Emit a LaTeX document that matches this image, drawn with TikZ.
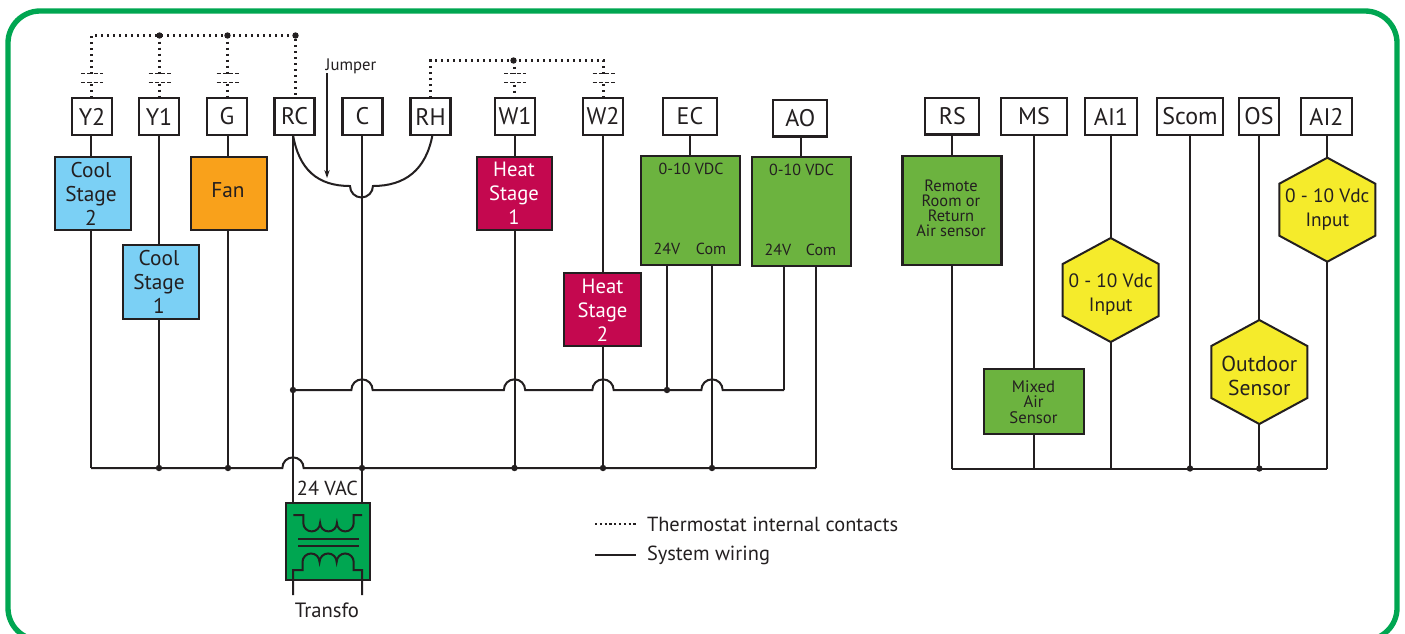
\documentclass[tikz,border=0pt]{standalone}
\usepackage{fontspec}
\setmainfont{PT Sans}
\usetikzlibrary{calc,arrows.meta}
\definecolor{ink}{HTML}{231F20}
\definecolor{framegreen}{HTML}{00A651}
\definecolor{sky}{HTML}{7BD0F5}
\definecolor{fanorange}{HTML}{F9A11B}
\definecolor{heatred}{HTML}{C4084F}
\definecolor{boxgreen}{HTML}{6CB33F}
\definecolor{hexyellow}{HTML}{F5EB2B}
\tikzset{
  every node/.style={text=ink,inner sep=0pt,outer sep=0pt,align=center},
  wire/.style={draw=ink,line width=1.5pt,line join=miter},
  thinwire/.style={draw=ink,line width=1.2pt},
  dots/.style={draw=ink,line width=1.6pt,dash pattern=on 1.8pt off 2.7pt},
  bars/.style={draw=ink,line width=1.2pt,dash pattern=on 3.2pt off 1.5pt},
  termbox/.style={draw=ink,line width=1.7pt,fill=white,font=\fontsize{18}{20}\selectfont,minimum height=27.5pt},
  block/.style={draw=ink,line width=1.7pt,font=\fontsize{16}{18}\selectfont},
  hexst/.style={draw=ink,line width=1.5pt,fill=hexyellow},
  tiny/.style={font=\fontsize{12.3}{11.2}\selectfont},
  small/.style={font=\fontsize{12}{12}\selectfont},
  legend/.style={font=\fontsize{15.3}{17}\selectfont},
  dotnode/.style={circle,fill=ink,minimum size=4.8pt},
  wsize/.style 2 args={minimum width=#1*0.75pt,minimum height=#2*0.75pt}
}
\newcommand{\hexagon}[6]{%
  \draw[hexst,shift={(#1,#2)}] (0,-52) coordinate (#3top) -- (48,-26) -- (48,26) -- (0,52) coordinate (#3bot) -- (-48,26) -- (-48,-26) -- cycle;
  \node[font=\fontsize{#6}{18}\selectfont] (#3txt) at (#1,#5) {#4};}
\newcommand{\jd}[2]{\node[dotnode] (#1) at (#2) {};}
\begin{document}
\begin{tikzpicture}[x=0.75pt,y=-0.75pt]
\useasboundingbox (0,0) rectangle (1405,633);
\clip (0,0) rectangle (1405,633);
\fill[white] (0,0) rectangle (1405,633);
\draw[framegreen,line width=4pt,rounded corners=24pt] (8,11) rectangle (1397,640);

% wire and bus coordinates
\foreach \n/\x in {wY2/91,wY1/159,wG/228,wRC/293,wC/362,wRH/432.5,wW1/514.5,wW2/603,wEC/690,wEV/667,wEM/712,wAO/801,wAV/784,wAM/816,wRS/952,wMS/1034,wAI/1110.7,wSc/1190,wOS/1259.3,wA2/1327.3}
  \coordinate (\n) at (\x,0);
\coordinate (busL) at (0,468);
\coordinate (busV) at (0,390);
\coordinate (busR) at (0,468.5);

% terminals
\node[termbox,minimum width=30pt] (Y2) at (92,116.5) {Y2};
\node[termbox,minimum width=30pt] (Y1) at (159,116.5) {Y1};
\node[termbox,minimum width=30pt] (G) at (227,116.5) {G};
\node[termbox,minimum width=30pt] (RC) at (294.5,116.5) {RC};
\node[termbox,minimum width=30pt] (C) at (362.5,116.5) {C};
\node[termbox,minimum width=30pt] (RH) at (430.5,116.5) {RH};
\node[termbox,minimum width=30pt] (W1) at (515,116.5) {W1};
\node[termbox,minimum width=30pt] (W2) at (603,116.5) {W2};
\node[termbox,minimum width=40.5pt] (EC) at (690,116.5) {EC};
\node[termbox,minimum width=40.5pt] (AO) at (800.3,118.2) {AO};
\node[termbox,minimum width=40.5pt] (RS) at (952.3,116.2) {RS};
\node[termbox,minimum width=49.5pt] (MS) at (1034,116.5) {MS};
\node[termbox,minimum width=39pt] (AI1) at (1111,116.5) {AI1};
\node[termbox,minimum width=49.5pt] (Scom) at (1190,116.5) {Scom};
\node[termbox,minimum width=30pt] (OS) at (1259,116.5) {OS};
\node[termbox,minimum width=38pt] (AI2) at (1326.5,116.5) {AI2};

% blocks
\node[block,fill=sky,wsize={76}{73}] (cs2) at (93,193.5) {};
\node (cs2t) at (91,193.5) [font=\fontsize{16}{18}\selectfont] {Cool\\Stage\\2};
\node[block,fill=sky,wsize={76}{74}] (cs1) at (161,282) {};
\node (cs1t) at (159,282) [font=\fontsize{16}{18}\selectfont] {Cool\\Stage\\1};
\node[block,fill=fanorange,wsize={76}{73}] (fan) at (229,193.5) {};
\node (fant) at (228,190.5) [font=\fontsize{16}{18}\selectfont] {Fan};
\node[block,fill=heatred,wsize={75}{73}] (hs1) at (514.5,193.5) {};
\node (hs1t) at (514,193.5) [font=\fontsize{15.5}{18}\selectfont,text=white] {Heat\\Stage\\1};
\node[block,fill=heatred,wsize={77}{73}] (hs2) at (602.5,309.5) {};
\node (hs2t) at (602.5,310) [font=\fontsize{15.5}{18}\selectfont,text=white] {Heat\\Stage\\2};
\node[block,fill=boxgreen,wsize={99}{109}] (ecb) at (690.5,210.5) {};
\node[small] (ect) at (691,169) {0-10 VDC};
\node[small] (ecv) at (667,249) {24V};
\node[small] (ecm) at (711,249) {Com};
\node[block,fill=boxgreen,wsize={99}{109}] (aob) at (801.5,211.5) {};
\node[small] (aot) at (801.5,170) {0-10 VDC};
\node[small] (aov) at (778,250) {24V};
\node[small] (aom) at (821,250) {Com};
\node[block,fill=boxgreen,wsize={99}{109}] (rsb) at (952,210.5) {};
\node[tiny] (rst) at (951,208) {Remote\\Room or\\Return\\Air sensor};
\node[block,fill=boxgreen,wsize={100}{65}] (msb) at (1034,401.5) {};
\node[tiny,font=\fontsize{12.5}{11.4}\selectfont] (mst) at (1033.5,402) {Mixed\\Air\\Sensor};

\hexagon{1110.7}{290}{ai}{0 - 10 Vdc\\Input}{294.5}{14.5}
\hexagon{1259.3}{372}{os}{Outdoor\\Sensor}{376}{16.2}
\hexagon{1327.3}{209.7}{az}{0 - 10 Vdc\\Input}{210}{14.5}

% transformer
\node[draw=ink,line width=1.7pt,fill=framegreen,wsize={84}{77}] (tr) at (328,541.5) {};
\node[font=\fontsize{15.2}{17}\selectfont] (vac) at (327.5,488) {24 VAC};
\node[font=\fontsize{15.5}{17}\selectfont] (trt) at (327,610) {Transfo};
\coordinate (tl) at (293,595);
\coordinate (tr2) at (362,595);
\draw[wire] (293.3,515) -- (303.3,515) -- (303.3,523)
  arc[start angle=180,end angle=360,radius=6.3pt]
  arc[start angle=180,end angle=360,radius=6.3pt]
  arc[start angle=180,end angle=360,radius=6.3pt]
  -- ++(0,-8) -- ++(8.5,0);
\draw[wire] (298,539) -- (359,539);
\draw[wire] (298,545.7) -- (359,545.7);
\draw[wire] (tl) -- (293,570) -- (302.5,570) -- (302.5,562)
  arc[start angle=180,end angle=0,radius=6.4pt]
  arc[start angle=180,end angle=0,radius=6.4pt]
  arc[start angle=180,end angle=0,radius=6.4pt]
  -- ++(0,8) -- (362,570) -- (tr2);

% system wiring, upper part
\draw[wire] (wY2 |- Y2.south) -- (wY2 |- cs2.north);
\draw[wire] (wY2 |- cs2.south) -- (wY2 |- busL);
\draw[wire] (wY1 |- Y1.south) -- (wY1 |- cs1.north);
\draw[wire] (wY1 |- cs1.south) -- (wY1 |- busL);
\draw[wire] (wG |- G.south) -- (wG |- fan.north);
\draw[wire] (wG |- fan.south) -- (wG |- busL);
\draw[wire] (wRC |- RC.south) -- (wRC |- tr.north);
\draw[wire] (wC |- C.south) -- (wC |- tr.north);
\draw[wire] (wW1 |- W1.south) -- (wW1 |- hs1.north);
\draw[wire] (wW1 |- hs1.south) -- (wW1 |- busL);
\draw[wire] (wW2 |- W2.south) -- (wW2 |- hs2.north);
\draw[wire] (wW2 |- hs2.south) -- (wW2 |- busL);
\draw[wire] (wEC |- EC.south) -- (wEC |- ecb.north);
\draw[wire] (wEV |- ecb.south) -- (wEV |- busV);
\draw[wire] (wEM |- ecb.south) -- (wEM |- busL);
\draw[wire] (wAO |- AO.south) -- (wAO |- aob.north);
\draw[wire] (wAV |- aob.south) -- (wAV |- busV);
\draw[wire] (wAM |- aob.south) -- (wAM |- busL);

% horizontal 24 V line with crossings
\draw[wire] (wRC |- busV) -- ([xshift=-8pt]wC |- busV)
  arc[start angle=180,end angle=0,radius=8pt]
  -- ([xshift=-8pt]wW1 |- busV)
  arc[start angle=180,end angle=0,radius=8pt]
  -- ([xshift=-8pt]wW2 |- busV)
  arc[start angle=180,end angle=0,radius=8pt]
  -- ([xshift=-8pt]wEM |- busV)
  arc[start angle=180,end angle=0,radius=8pt]
  -- (wAV |- busV);
% common bus
\draw[wire] (wY2 |- busL) -- ([xshift=-8pt]wRC |- busL)
  arc[start angle=180,end angle=0,radius=8pt]
  -- (wAM |- busL);

% jumper
\coordinate (jlA) at (350,186);
\draw[wire] (wRC |- RC.south) .. controls (299,170) and (318,186) .. (jlA)
  arc[start angle=180,end angle=360,radius=8.6pt]
  .. controls (405,186) and (426,170) .. (wRH |- RH.south);
\node[font=\fontsize{12.5}{14}\selectfont] (jt) at (351,66) {Jumper};
\coordinate (jtip) at (327,178);
\draw[thinwire,line width=0.8pt,-{Stealth[length=6pt,width=4pt]}] (327,73) -- (jtip);

% thermostat contacts
\coordinate (topB) at (295.5,35.5);
\coordinate (topC) at (430.5,60.5);
\coordinate (topD) at (603.5,60.5);
\draw[dots] (91.5,98) -- (91.5,35.5) -- (topB) -- (295.5,98);
\draw[dots] (159.5,35.5) -- (159.5,98);
\draw[dots] (227.5,35.5) -- (227.5,98);
\draw[dots] (430.5,98) -- (topC) -- (topD) -- (603.5,98);
\draw[dots] (514.5,60.5) -- (514.5,98);
\foreach \x in {92,159.5,227.5,514.5,603.5}{
  \fill[white,shift={(\x,0)}] (-12,74) rectangle (12,81);
}
\foreach \x in {92,159.5,227.5,515,603.5}{
  \draw[bars,shift={(\x,0)}] (-11,73.5) -- (11,73.5);
  \draw[bars,shift={(\x,0)}] (-11,82.5) -- (11,82.5);
}

% junction dots
\jd{d1}{159.5,35.5}\jd{d2}{227.5,35.5}\jd{d3}{295.5,35.5}\jd{d4}{513.5,60.5}
\jd{d5}{293,390}\jd{d6}{667,390}
\jd{d7}{159,468}\jd{d8}{228,468}\jd{d9}{362,468}\jd{d10}{514.5,468}\jd{d11}{603,468}\jd{d12}{712,468}

% right group
\draw[wire] (wRS |- RS.south) -- (wRS |- rsb.north);
\draw[wire] (wRS |- rsb.south) -- (wRS |- busR);
\draw[wire] (wMS |- MS.south) -- (wMS |- msb.north);
\draw[wire] (wMS |- msb.south) -- (wMS |- busR);
\draw[wire] (wAI |- AI1.south) -- (aitop);
\draw[wire] (aibot) -- (wAI |- busR);
\draw[wire] (wSc |- Scom.south) -- (wSc |- busR);
\draw[wire] (wOS |- OS.south) -- (ostop);
\draw[wire] (osbot) -- (wOS |- busR);
\draw[wire] (wA2 |- AI2.south) -- (aztop);
\draw[wire] (azbot) -- (wA2 |- busR);
\draw[wire] (wRS |- busR) -- (wA2 |- busR);
\jd{d13}{1190,468.5}\jd{d14}{1259.3,468.5}

% legend
\node[legend,anchor=west] (lg1) at (647,524) {Thermostat internal contacts};
\node[legend,anchor=west] (lg2) at (647,555) {System wiring};
\coordinate (lg1s) at (595,524);
\coordinate (lg2s) at (595,555);
\draw[draw=ink,line width=1.3pt,dash pattern=on 1.6pt off 2pt] (lg1s) -- ([xshift=-8pt]lg1.west);
\draw[wire] (lg2s) -- ([xshift=-8pt]lg2.west);
\end{tikzpicture}
\end{document}
